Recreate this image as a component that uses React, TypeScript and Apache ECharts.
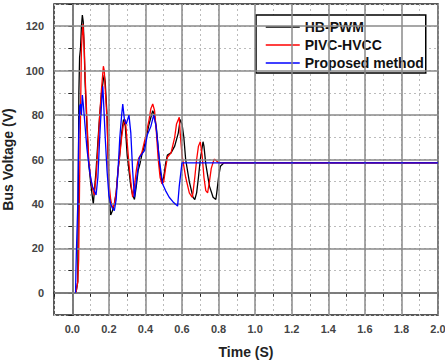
import React, { useEffect, useRef } from "react";
import * as echarts from "echarts";

// Time (s), voltage (V) samples
const hbPwm: [number, number][] = [
  [0.02, 0], [0.03, 5], [0.033, 50], [0.036, 90], [0.04, 106], [0.045, 110], [0.05, 120], [0.055, 125], [0.06, 122],
  [0.065, 110], [0.07, 95], [0.08, 75], [0.09, 58], [0.1, 50], [0.11, 43], [0.115, 40], [0.12, 45],
  [0.13, 55], [0.14, 68], [0.15, 80], [0.16, 90], [0.17, 96], [0.175, 98], [0.18, 95], [0.19, 80],
  [0.195, 65], [0.2, 45], [0.21, 35], [0.22, 37], [0.23, 40], [0.24, 45], [0.25, 55], [0.26, 63],
  [0.27, 72], [0.28, 78], [0.29, 75], [0.3, 62], [0.31, 55], [0.32, 48], [0.33, 44], [0.34, 42],
  [0.35, 48], [0.36, 55], [0.37, 58], [0.38, 62], [0.4, 68], [0.42, 76], [0.44, 82], [0.45, 80],
  [0.46, 74], [0.47, 65], [0.48, 55], [0.49, 50], [0.5, 52], [0.51, 58], [0.52, 62], [0.54, 63],
  [0.56, 66], [0.58, 72], [0.59, 78], [0.6, 76], [0.61, 70], [0.62, 60], [0.64, 50], [0.66, 43],
  [0.67, 42], [0.68, 45], [0.69, 52], [0.7, 60], [0.715, 68], [0.72, 66], [0.73, 58], [0.75, 48],
  [0.77, 43], [0.785, 42], [0.79, 45], [0.8, 52], [0.81, 57], [0.83, 58.5], [0.85, 58.5], [2.0, 58.5],
];

const pivcHvcc: [number, number][] = [
  [0.02, 0], [0.03, 5], [0.035, 15], [0.04, 50], [0.045, 80], [0.05, 110], [0.058, 121], [0.065, 112],
  [0.07, 98], [0.08, 78], [0.09, 60], [0.1, 52], [0.11, 47], [0.12, 44], [0.13, 52], [0.14, 65],
  [0.15, 80], [0.16, 92], [0.17, 102], [0.175, 100], [0.18, 92], [0.19, 78], [0.2, 50], [0.21, 42],
  [0.22, 38], [0.23, 40], [0.24, 45], [0.25, 55], [0.26, 62], [0.27, 70], [0.28, 76], [0.29, 78],
  [0.3, 68], [0.31, 58], [0.32, 50], [0.33, 43], [0.34, 48], [0.35, 55], [0.36, 60], [0.38, 63],
  [0.4, 70], [0.42, 78], [0.43, 83], [0.44, 85], [0.45, 82], [0.46, 72], [0.47, 60], [0.48, 52],
  [0.49, 49], [0.5, 50], [0.51, 56], [0.52, 61], [0.54, 63], [0.56, 70], [0.57, 76], [0.585, 79],
  [0.59, 72], [0.6, 62], [0.62, 52], [0.64, 45], [0.655, 43], [0.66, 45], [0.67, 52], [0.68, 60],
  [0.69, 66], [0.7, 68], [0.71, 62], [0.72, 52], [0.73, 46], [0.74, 45], [0.75, 50], [0.76, 56],
  [0.775, 60], [0.78, 60], [0.8, 58.5], [2.0, 58.5],
];

const proposed: [number, number][] = [
  [0.018, 0], [0.02, 10], [0.022, 17], [0.025, 17], [0.03, 40], [0.035, 70], [0.04, 84], [0.045, 85],
  [0.05, 80], [0.055, 89], [0.06, 85], [0.07, 75], [0.08, 65], [0.09, 58], [0.1, 52], [0.11, 48],
  [0.12, 46], [0.13, 44], [0.14, 52], [0.15, 70], [0.16, 85], [0.167, 93], [0.17, 88], [0.18, 70],
  [0.19, 55], [0.2, 44], [0.21, 40], [0.22, 38], [0.23, 37], [0.24, 42], [0.25, 55], [0.26, 70],
  [0.27, 80], [0.276, 85], [0.285, 78], [0.295, 76], [0.31, 80], [0.32, 72], [0.33, 55], [0.34, 43],
  [0.35, 50], [0.367, 61], [0.395, 64], [0.41, 71], [0.43, 75], [0.445, 80], [0.458, 75], [0.476, 60],
  [0.494, 49], [0.51, 46], [0.53, 43], [0.55, 41], [0.576, 39], [0.585, 48], [0.6, 58.5], [2.0, 58.5],
];

const majorX = [0, 0.2, 0.4, 0.6, 0.8, 1.0, 1.2, 1.4, 1.6, 1.8, 2.0];
const majorY = [0, 20, 40, 60, 80, 100, 120];

const FONT = "Liberation Sans, Arial, sans-serif";

export default function App() {
  const ref = useRef<HTMLDivElement>(null);
  useEffect(() => {
    if (!ref.current) return;
    const chart = echarts.init(ref.current, undefined, { renderer: "svg" });
    const lineSeries = (name: string, data: [number, number][], color: string, z: number, width: number) => ({
      name,
      type: "line",
      data,
      symbol: "none",
      showSymbol: false,
      z,
      lineStyle: { color, width },
      itemStyle: { color },
    });
    chart.setOption({
      animation: false,
      backgroundColor: "#fff",
      grid: {
        left: 54,
        right: 7,
        top: 4,
        bottom: 45,
        show: true,
        borderColor: "#222",
        borderWidth: 1.5,
        outerBoundsMode: "none",
        containLabel: false,
      },
      legend: {
        data: ["HB-PWM", "PIVC-HVCC", "Proposed method"],
        orient: "vertical",
        left: 256,
        top: 15,
        padding: [5, 2, 3, 9],
        itemWidth: 34,
        itemHeight: 12,
        itemGap: 4,
        backgroundColor: "#fff",
        borderColor: "#000",
        borderWidth: 1.5,
        borderRadius: 0,
        itemStyle: { opacity: 0, borderWidth: 0 },
        lineStyle: { width: 1.5 },
        textStyle: { fontFamily: FONT, fontSize: 14, fontWeight: "bold", color: "#111" },
      },
      xAxis: {
        type: "value",
        min: -0.1,
        max: 2.0,
        interval: 0.1,
        name: "Time (S)",
        nameLocation: "middle",
        nameGap: 30,
        nameTextStyle: { fontFamily: FONT, fontSize: 14, fontWeight: "bold", color: "#222" },
        axisLine: { show: true, lineStyle: { color: "#222", width: 1.5 } },
        axisTick: { show: true, length: 4, inside: false, lineStyle: { color: "#222" } },
        axisLabel: {
          showMaxLabel: true,
          showMinLabel: true,
          margin: 8,
          fontFamily: FONT,
          fontSize: 11,
          fontWeight: "bold",
          color: "#444",
          formatter: (v: number) => {
            const k = Math.round(v * 10);
            return k >= 0 && k % 2 === 0 ? (k / 10).toFixed(1) : "";
          },
        },
        splitLine: { show: true, lineStyle: { color: "#bbb", type: [2, 3], width: 1 } },
      },
      yAxis: {
        type: "value",
        min: -10,
        max: 130,
        interval: 10,
        name: "Bus Voltage (V)",
        nameLocation: "middle",
        nameGap: 36,
        nameTextStyle: { fontFamily: FONT, fontSize: 14, fontWeight: "bold", color: "#222" },
        axisLine: { show: true, lineStyle: { color: "#222", width: 1.5 } },
        axisTick: { show: true, length: 4, inside: false, lineStyle: { color: "#222" } },
        axisLabel: {
          margin: 10,
          fontFamily: FONT,
          fontSize: 11,
          fontWeight: "bold",
          color: "#444",
          formatter: (v: number) => {
            const r = Math.round(v);
            return r >= 0 && r % 20 === 0 && r <= 120 ? String(r) : "";
          },
        },
        splitLine: { show: true, lineStyle: { color: "#bbb", type: [2, 3], width: 1 } },
      },
      series: [
        {
          name: "grid-major",
          type: "line",
          data: [],
          z: 1,
          silent: true,
          markLine: {
            silent: true,
            symbol: "none",
            animation: false,
            label: { show: false },
            lineStyle: { color: "#8a8a8a", type: "solid", width: 1.5 },
            data: [
              ...majorX.map((v) => ({ xAxis: v })),
              ...majorY.map((v) => ({ yAxis: v })),
            ],
          },
        },
        lineSeries("HB-PWM", hbPwm, "#000000", 3, 1.3),
        lineSeries("PIVC-HVCC", pivcHvcc, "#ff0000", 4, 1.3),
        lineSeries("Proposed method", proposed, "#0000ff", 5, 1.3),
      ],
    });
    return () => chart.dispose();
  }, []);
  return <div ref={ref} style={{ width: 445, height: 360, position: "absolute", left: 0, top: 0 }} />;
}
